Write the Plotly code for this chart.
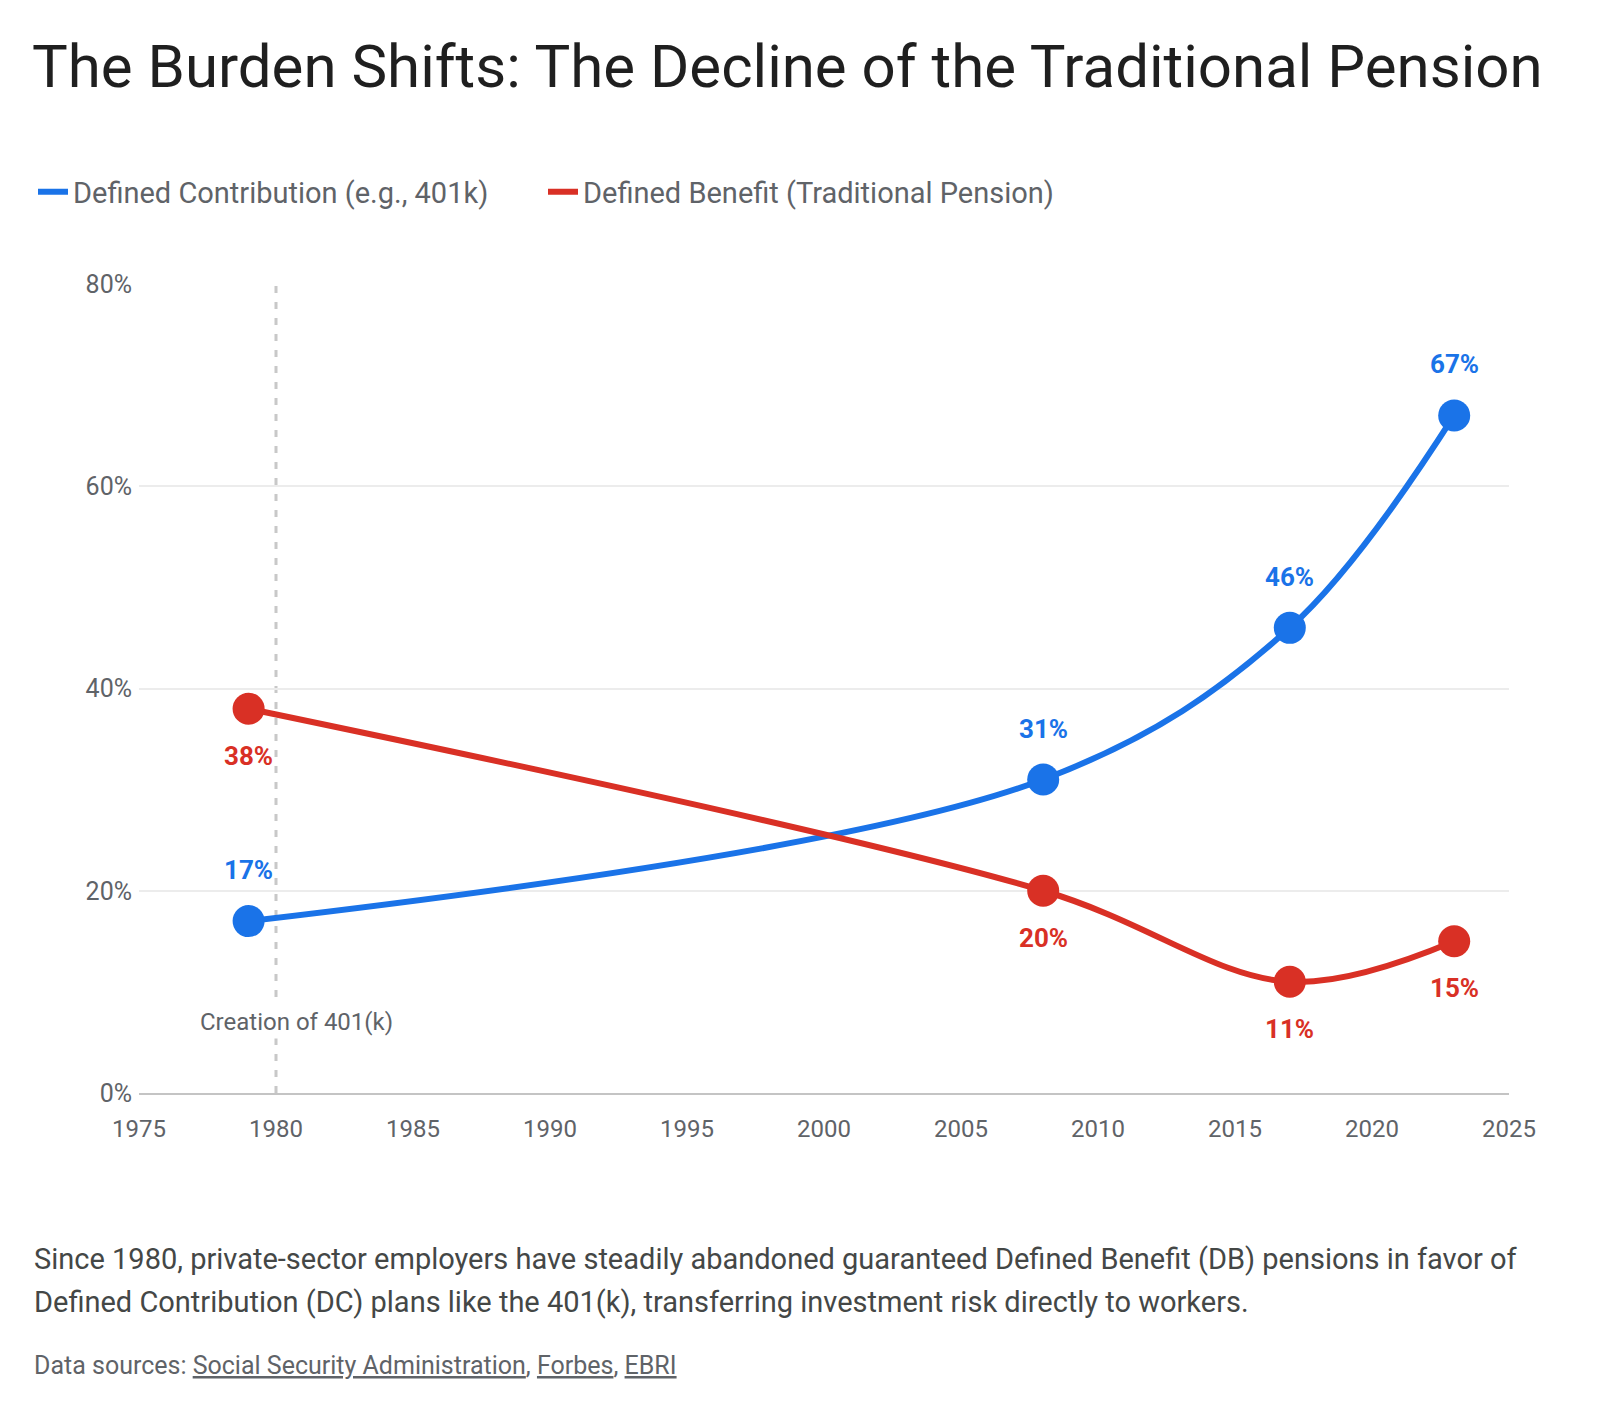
import plotly.graph_objects as go

# ---- data ----
years = [1979, 2008, 2017, 2023]
dc_values = [17, 31, 46, 67]   # Defined Contribution (%)
db_values = [38, 20, 11, 15]   # Defined Benefit (%)
dc_name = "Defined Contribution (e.g., 401k)"
db_name = "Defined Benefit (Traditional Pension)"
x_ticks = [1975, 1980, 1985, 1990, 1995, 2000, 2005, 2010, 2015, 2020, 2025]
y_ticks = [0, 20, 40, 60, 80]
marker_year = 1980
marker_label = "Creation of 401(k)"

title = "The Burden Shifts: The Decline of the Traditional Pension"
desc1 = "Since 1980, private-sector employers have steadily abandoned guaranteed Defined Benefit (DB) pensions in favor of"
desc2 = "Defined Contribution (DC) plans like the 401(k), transferring investment risk directly to workers."
sources = ["Social Security Administration", "Forbes", "EBRI"]

BLUE = "#1a73e8"
RED = "#d93025"
GREY = "#5f6368"
FONT = "Roboto"

W, H = 1600, 1414
L, R, T, B = 139, 91, 284, 321

fig = go.Figure()

for name, vals, col in [(dc_name, dc_values, BLUE), (db_name, db_values, RED)]:
    fig.add_trace(go.Scatter(
        x=years, y=vals, name=name, mode="lines",
        line=dict(color=col, width=6, shape="spline", smoothing=1.0),
        hoverinfo="skip", showlegend=True,
    ))
for name, vals, col in [(dc_name, dc_values, BLUE), (db_name, db_values, RED)]:
    fig.add_trace(go.Scatter(
        x=years, y=vals, name=name, mode="markers",
        marker=dict(color=col, size=32, line=dict(width=0)),
        hoverinfo="skip", showlegend=False,
    ))

annotations = []
for x, v in zip(years, dc_values):
    annotations.append(dict(x=x, y=v, xref="x", yref="y", text=f"{v}%", showarrow=False,
                            yshift=51, font=dict(family=FONT, size=26, color=BLUE, weight="bold")))
for x, v in zip(years, db_values):
    annotations.append(dict(x=x, y=v, xref="x", yref="y", text=f"{v}%", showarrow=False,
                            yshift=-47, font=dict(family=FONT, size=26, color=RED, weight="bold")))

annotations.append(dict(x=marker_year, y=7, xref="x", yref="y", text=marker_label, showarrow=False,
                        xshift=20, bgcolor="white", borderpad=2,
                        font=dict(family=FONT, size=24, color=GREY)))

plot_h = H - T - B
plot_w = W - L - R


def paper_xy(px, py):
    return (px - L) / plot_w, (H - B - py) / plot_h


for text, py in [(desc1, 1259), (desc2, 1302)]:
    ax, ay = paper_xy(32, py)
    annotations.append(dict(x=ax, y=ay, xref="paper", yref="paper", xanchor="left", yanchor="middle",
                            text=text, showarrow=False, font=dict(family=FONT, size=29, color="#444746")))
src_text = "Data sources: " + ", ".join(f"<u>{s}</u>" for s in sources)
ax, ay = paper_xy(32, 1365)
annotations.append(dict(x=ax, y=ay, xref="paper", yref="paper", xanchor="left", yanchor="middle",
                        text=src_text, showarrow=False, font=dict(family=FONT, size=25, color=GREY)))

fig.update_layout(
    width=W, height=H,
    margin=dict(l=L, r=R, t=T, b=B, autoexpand=False),
    paper_bgcolor="white", plot_bgcolor="white",
    font=dict(family=FONT, color=GREY),
    title=dict(text=title, x=32 / W, xanchor="left", xref="container",
               y=1 - 66 / H, yanchor="middle", yref="container",
               font=dict(family=FONT, size=60, color="#1f1f1f")),
    legend=dict(orientation="h", x=33 / W, xanchor="left", xref="container",
                y=1 - 192 / H, yanchor="middle", yref="container",
                font=dict(family=FONT, size=29, color=GREY),
                itemwidth=30, traceorder="normal",
                entrywidth=465, entrywidthmode="pixels"),
    xaxis=dict(range=[1975, 2025], tickvals=x_ticks, ticktext=[str(t) for t in x_ticks],
               showgrid=False, zeroline=False, showline=True, linecolor="#c4c4c4", linewidth=2,
               ticks="", tickfont=dict(family=FONT, size=24, color=GREY), ticklabelstandoff=13,
               fixedrange=True),
    yaxis=dict(range=[0, 80], tickvals=y_ticks, ticktext=[f"{t}%" for t in y_ticks],
               showgrid=True, gridcolor="#ececec", gridwidth=2, zeroline=False,
               showline=False, ticks="", tickfont=dict(family=FONT, size=25, color=GREY),
               ticklabelstandoff=6, fixedrange=True),
    shapes=[dict(type="line", xref="x", yref="y", x0=marker_year, x1=marker_year, y0=0, y1=80,
                 line=dict(color="#c8c8c8", width=3, dash="7px,9px"), layer="below")],
    annotations=annotations,
    showlegend=True,
)

fig.write_html("out.html", include_plotlyjs=True, config={"displayModeBar": False})
